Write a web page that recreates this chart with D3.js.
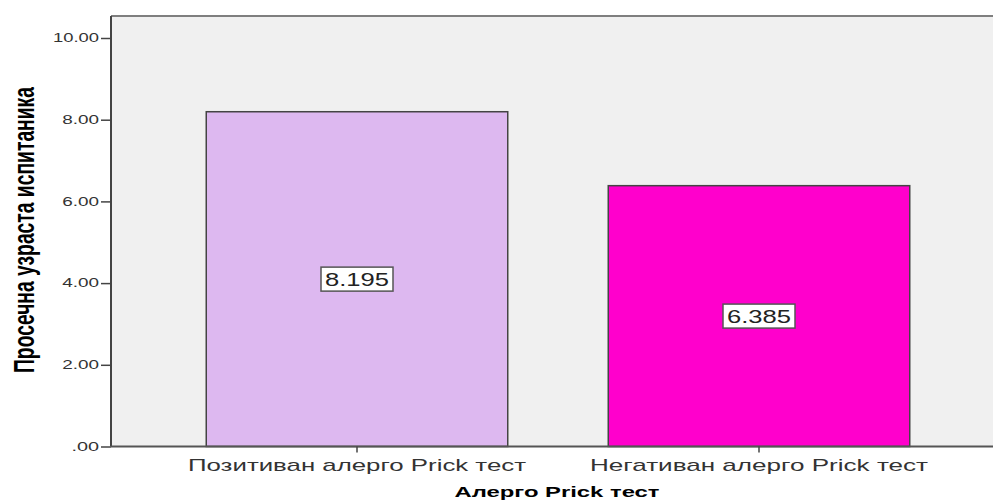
<!DOCTYPE html>
<html><head><meta charset="utf-8">
<script src="https://cdn.jsdelivr.net/npm/d3@7"></script>
<style>body{margin:0;background:#fff}svg{display:block}</style>
</head><body>
<svg id="c" width="993" height="500"></svg>
<script>
const categories = ["Позитиван алерго Prick тест", "Негативан алерго Prick тест"];
const values = [8.195, 6.385];
const valueLabels = ["8.195", "6.385"];
const barColors = ["#DDB8F0", "#FF00CC"];
const yTicks = [0, 2, 4, 6, 8, 10];
const yTickLabels = [".00", "2.00", "4.00", "6.00", "8.00", "10.00"];
const yTitle = "Просечна узраста испитаника";
const xTitle = "Алерго Prick тест";

const svg = d3.select("#c");
const L = 111, R = 993, T = 16, B = 446.5;
const y = d3.scaleLinear().domain([0, 10]).range([B, 38]);
const x = d3.scaleBand().domain(categories).range([156, 960]).paddingInner(0.25).paddingOuter(0.125);

svg.append("rect").attr("x", L).attr("y", T).attr("width", R - L).attr("height", B - T).attr("fill", "#F0F0F0");
svg.append("line").attr("x1", L).attr("x2", R).attr("y1", T).attr("y2", T).attr("stroke", "#7f7f7f").attr("stroke-width", 2);

svg.selectAll("rect.bar").data(values).enter().append("rect").attr("class", "bar")
  .attr("x", (d, i) => x(categories[i]))
  .attr("y", d => y(d))
  .attr("width", x.bandwidth())
  .attr("height", d => B - y(d))
  .attr("fill", (d, i) => barColors[i])
  .attr("stroke", "#444").attr("stroke-width", 1.5);

// y axis
const yAxis = d3.axisLeft(y).tickValues(yTicks).tickFormat((d, i) => yTickLabels[i]).tickSize(10).tickPadding(2);
const gy = svg.append("g").attr("transform", `translate(${L},0)`).call(yAxis);
gy.select(".domain").attr("stroke", "#444").attr("stroke-width", 2).attr("d", `M0,${T}V${B}`);
gy.selectAll(".tick line").attr("stroke", "#444").attr("stroke-width", 1.5);
gy.selectAll(".tick text").attr("fill", "#333").attr("font-family", "Liberation Sans, Arial, sans-serif")
  .attr("font-size", 12)
  .each(function(d, i) { d3.select(this).attr("textLength", yTickLabels[i].length * 9.2).attr("lengthAdjust", "spacingAndGlyphs"); });

// x axis
const xAxis = d3.axisBottom(x).tickSize(6).tickPadding(6).tickFormat(d => d);
const gx = svg.append("g").attr("transform", `translate(0,${B})`).call(xAxis);
gx.select(".domain").attr("stroke", "#555").attr("stroke-width", 2).attr("d", `M${L},0H${R}`);
gx.selectAll(".tick line").attr("stroke", "#444").attr("stroke-width", 1.5);
gx.selectAll(".tick text").attr("fill", "#333").attr("font-family", "Liberation Sans, Arial, sans-serif")
  .attr("font-size", 17).attr("textLength", 338).attr("lengthAdjust", "spacingAndGlyphs");

// value labels
const lab = svg.selectAll("g.lab").data(values).enter().append("g").attr("class", "lab")
  .attr("transform", (d, i) => `translate(${x(categories[i]) + x.bandwidth() / 2},${y(d / 2)})`);
lab.append("rect").attr("x", -36).attr("y", -12).attr("width", 72).attr("height", 24)
  .attr("fill", "#fff").attr("stroke", "#555").attr("stroke-width", 1.5);
lab.append("text").attr("text-anchor", "middle").attr("dy", "0.36em")
  .attr("font-family", "Liberation Sans, Arial, sans-serif").attr("font-size", 19).attr("fill", "#222")
  .attr("textLength", 64).attr("lengthAdjust", "spacingAndGlyphs")
  .text((d, i) => valueLabels[i]);

// titles
svg.append("text").attr("transform", `translate(34,230) rotate(-90)`).attr("text-anchor", "middle")
  .attr("font-family", "Liberation Sans, Arial, sans-serif").attr("font-weight", "bold").attr("font-size", 29)
  .attr("fill", "#000").attr("textLength", 286).attr("lengthAdjust", "spacingAndGlyphs").text(yTitle);
svg.append("text").attr("x", 557).attr("y", 497).attr("text-anchor", "middle")
  .attr("font-family", "Liberation Sans, Arial, sans-serif").attr("font-weight", "bold").attr("font-size", 14)
  .attr("fill", "#000").attr("textLength", 205).attr("lengthAdjust", "spacingAndGlyphs").text(xTitle);
</script>
</body></html>
